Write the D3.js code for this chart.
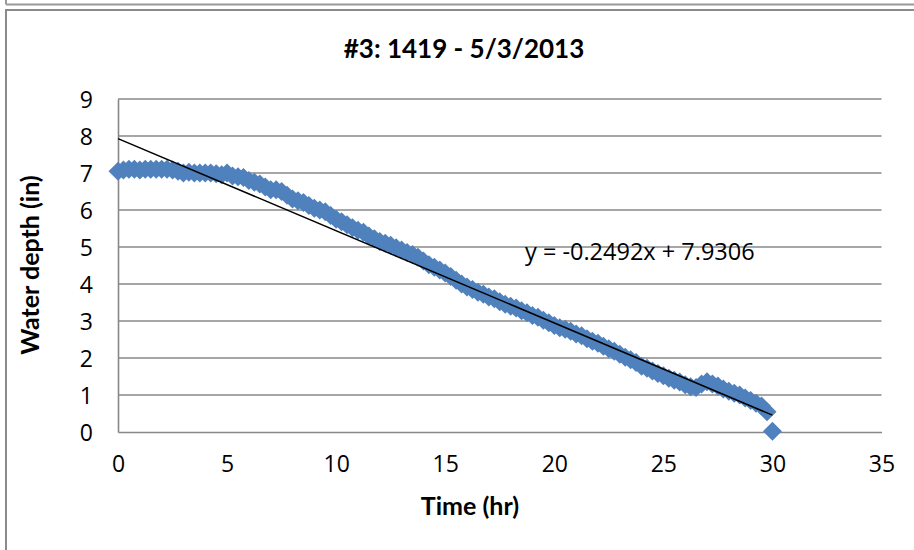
<!DOCTYPE html>
<html><head><meta charset="utf-8">
<script src="https://cdn.jsdelivr.net/npm/d3@7"></script>
<style>body{margin:0;background:#fff}svg{display:block}</style>
</head><body>
<svg id="c" width="914" height="550"></svg>
<script>
const title = "#3: 1419 - 5/3/2013";
const xTitle = "Time (hr)";
const yTitle = "Water depth (in)";
const xTicks = [0,5,10,15,20,25,30,35];
const yTicks = [0,1,2,3,4,5,6,7,8,9];
const timeHr = [0,0.25,0.5,0.75,1,1.25,1.5,1.75,2,2.25,2.5,2.75,3,3.25,3.5,3.75,4,4.25,4.5,4.75,
5,5.25,5.5,5.75,6,6.25,6.5,6.75,7,7.25,7.5,7.75,8,8.25,8.5,8.75,9,9.25,9.5,9.75,
10,10.25,10.5,10.75,11,11.25,11.5,11.75,12,12.25,12.5,12.75,13,13.25,13.5,13.75,14,14.25,14.5,14.75,
15,15.25,15.5,15.75,16,16.25,16.5,16.75,17,17.25,17.5,17.75,18,18.25,18.5,18.75,19,19.25,19.5,19.75,
20,20.25,20.5,20.75,21,21.25,21.5,21.75,22,22.25,22.5,22.75,23,23.25,23.5,23.75,24,24.25,24.5,24.75,
25,25.25,25.5,25.75,26,26.25,26.5,26.75,27,27.25,27.5,27.75,28,28.25,28.5,28.75,29,29.25,29.5,29.75,30];
const depthIn = [7.05,7.08,7.10,7.10,7.08,7.10,7.10,7.10,7.10,7.10,7.08,7.05,7.00,7.02,7.00,7.00,7.00,7.00,6.98,6.95,
7.00,6.92,6.90,6.88,6.80,6.75,6.70,6.62,6.55,6.55,6.50,6.40,6.30,6.25,6.20,6.12,6.05,6.00,5.95,5.85,
5.75,5.68,5.60,5.52,5.45,5.40,5.30,5.22,5.15,5.10,5.05,4.98,4.92,4.85,4.80,4.72,4.62,4.52,4.45,4.38,
4.30,4.20,4.10,4.00,3.92,3.85,3.78,3.72,3.65,3.60,3.52,3.45,3.40,3.35,3.28,3.22,3.15,3.10,3.02,2.95,
2.88,2.82,2.78,2.72,2.65,2.60,2.52,2.45,2.40,2.32,2.25,2.18,2.10,2.02,1.95,1.88,1.78,1.72,1.65,1.58,
1.52,1.45,1.40,1.35,1.28,1.22,1.20,1.30,1.36,1.30,1.24,1.16,1.10,1.05,1.00,0.92,0.85,0.78,0.70,0.55,0.02];
const trendSlope = -0.2492, trendIntercept = 7.9306;
const trendRange = [0, 30];
const equation = "y = -0.2492x + 7.9306";

const svg = d3.select("#c");
const grid = "#888888";
const font = "'Open Sans', sans-serif";
const boldFont = "Lato, 'Open Sans', sans-serif";

// outer borders
svg.append("line").attr("x1",6).attr("x2",914).attr("y1",4.5).attr("y2",4.5).attr("stroke","#999").attr("stroke-width",2);
svg.append("line").attr("x1",6).attr("x2",6).attr("y1",0).attr("y2",4.5).attr("stroke","#999").attr("stroke-width",2);
svg.append("path").attr("d","M6,550V10H914").attr("fill","none").attr("stroke","#8a8a8a").attr("stroke-width",2);

const x = d3.scaleLinear().domain([0,35]).range([118,881.5]);
const y = d3.scaleLinear().domain([0,9]).range([432,99]);

// gridlines
svg.append("g").selectAll("line").data(yTicks.filter(d=>d>0)).join("line")
  .attr("x1",x(0)).attr("x2",x(35)).attr("y1",d=>y(d)).attr("y2",d=>y(d))
  .attr("stroke",grid).attr("stroke-width",1.6);

// axes
const xa = svg.append("g").attr("transform",`translate(0,${y(0)})`)
  .call(d3.axisBottom(x).tickValues(xTicks).tickSize(0).tickPadding(26).tickFormat(d3.format("d")));
const ya = svg.append("g").attr("transform",`translate(${x(0)},0)`)
  .call(d3.axisLeft(y).tickValues(yTicks).tickSize(0).tickPadding(25).tickFormat(d3.format("d")));
[xa,ya].forEach(g=>{
  g.select(".domain").attr("stroke",grid).attr("stroke-width",1.6);
  g.selectAll("text").attr("font-family",font).attr("font-size",23).attr("fill","#000");
});
xa.selectAll("text").attr("dy","0.62em");
ya.selectAll("text").attr("dy","0.36em");

// points
const pts = timeHr.map((t,i)=>({t, v: depthIn[i]}));
const r = 9.5;
svg.append("g").selectAll("path").data(pts).join("path")
  .attr("d",d=>{const cx=x(d.t), cy=y(d.v); return `M${cx},${cy-r}L${cx+r},${cy}L${cx},${cy+r}L${cx-r},${cy}Z`;})
  .attr("fill","#4F81BD");

// trendline
svg.append("line")
  .attr("x1",x(trendRange[0])).attr("y1",y(trendSlope*trendRange[0]+trendIntercept))
  .attr("x2",x(trendRange[1])).attr("y2",y(trendSlope*trendRange[1]+trendIntercept))
  .attr("stroke","#000").attr("stroke-width",1.5);

// equation
svg.append("text").attr("x",525).attr("y",260).text(equation)
  .attr("font-family",font).attr("font-size",23.5).attr("fill","#000");

// titles
svg.append("text").attr("x",464).attr("y",58).attr("text-anchor","middle").text(title)
  .attr("font-family",boldFont).attr("font-size",26).attr("font-weight","bold");
svg.append("text").attr("x",470).attr("y",515).attr("text-anchor","middle").text(xTitle)
  .attr("font-family",boldFont).attr("font-size",25).attr("font-weight","bold");
svg.append("text").attr("transform","translate(39,265) rotate(-90)").attr("text-anchor","middle").text(yTitle)
  .attr("font-family",boldFont).attr("font-size",25).attr("font-weight","bold");
</script>
</body></html>
